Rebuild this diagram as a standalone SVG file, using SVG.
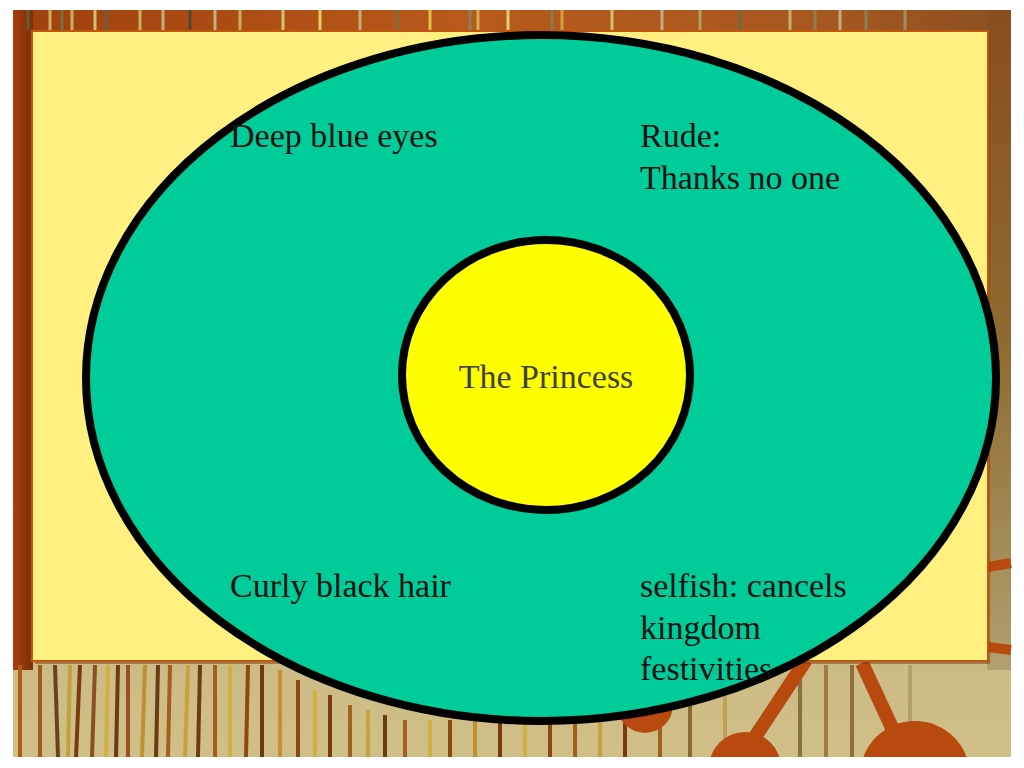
<svg xmlns="http://www.w3.org/2000/svg" width="1024" height="768" viewBox="0 0 1024 768">
<defs>
<linearGradient id="topbg" x1="0" y1="0" x2="1" y2="0">
<stop offset="0" stop-color="#a0400c"/>
<stop offset="0.45" stop-color="#b85a1c"/>
<stop offset="0.8" stop-color="#a85820"/>
<stop offset="1" stop-color="#8a5020"/>
</linearGradient>
<linearGradient id="leftbg" x1="0" y1="0" x2="1" y2="0">
<stop offset="0" stop-color="#a8400c"/>
<stop offset="1" stop-color="#7a3008"/>
</linearGradient>
<linearGradient id="rightbg" x1="0" y1="0" x2="0" y2="1">
<stop offset="0" stop-color="#8a4e1e"/>
<stop offset="0.5" stop-color="#8e6a30"/>
<stop offset="1" stop-color="#b0a070"/>
</linearGradient>
<linearGradient id="botbg" x1="0" y1="0" x2="0" y2="1">
<stop offset="0" stop-color="#b09868"/>
<stop offset="1" stop-color="#d0c088"/>
</linearGradient>
<style>
.lbl{font-family:"Liberation Serif","Times New Roman",serif;font-size:34px;fill:#111111}
.ctr{font-family:"Liberation Serif","Times New Roman",serif;font-size:34px;fill:#404030;text-anchor:middle}
.ts{stroke-width:3}
.bs{stroke-width:4}
</style>
</defs>
<rect x="0" y="0" width="1024" height="768" fill="#ffffff"/>
<g id="background">
<rect x="13" y="10" width="998" height="748" fill="url(#botbg)"/>
<rect x="13" y="10" width="998" height="30" fill="url(#topbg)"/>
<rect x="13" y="10" width="20" height="660" fill="url(#leftbg)"/>
<rect x="987" y="10" width="24" height="660" fill="url(#rightbg)"/>
<g class="ts" stroke="#c8b060">
<line x1="28" y1="10" x2="28" y2="30" stroke="#6a5a30"/>
<line x1="50" y1="10" x2="50" y2="30"/>
<line x1="62" y1="10" x2="62" y2="30" stroke="#7a7040"/>
<line x1="72" y1="10" x2="72" y2="30"/>
<line x1="95" y1="10" x2="95" y2="30" stroke="#d0c070"/>
<line x1="106" y1="10" x2="106" y2="30" stroke="#6a6040"/>
<line x1="140" y1="10" x2="140" y2="30"/>
<line x1="163" y1="10" x2="163" y2="30" stroke="#c0b080"/>
<line x1="190" y1="10" x2="190" y2="30" stroke="#504830"/>
<line x1="215" y1="10" x2="215" y2="30" stroke="#c8b080"/>
<line x1="240" y1="10" x2="240" y2="30"/>
<line x1="283" y1="10" x2="283" y2="30" stroke="#d8c070"/>
<line x1="320" y1="10" x2="320" y2="30" stroke="#e0d060"/>
<line x1="360" y1="10" x2="360" y2="30" stroke="#c0b070"/>
<line x1="397" y1="10" x2="397" y2="30" stroke="#7a7040"/>
<line x1="430" y1="10" x2="430" y2="30" stroke="#e0c040"/>
<line x1="470" y1="10" x2="470" y2="30" stroke="#8a8060"/>
<line x1="478" y1="10" x2="478" y2="30" stroke="#d0b050"/>
<line x1="508" y1="10" x2="508" y2="30" stroke="#e0d070"/>
<line x1="552" y1="10" x2="552" y2="30" stroke="#8a7a50"/>
<line x1="562" y1="10" x2="562" y2="30" stroke="#d0a040"/>
<line x1="612" y1="10" x2="612" y2="30" stroke="#d0c070"/>
<line x1="662" y1="10" x2="662" y2="30" stroke="#c0b080"/>
<line x1="700" y1="10" x2="700" y2="30" stroke="#b0a060"/>
<line x1="740" y1="10" x2="740" y2="30" stroke="#706840"/>
<line x1="790" y1="10" x2="790" y2="30" stroke="#c8b070"/>
<line x1="815" y1="10" x2="815" y2="30" stroke="#908050"/>
<line x1="840" y1="10" x2="840" y2="30" stroke="#c0b080"/>
<line x1="866" y1="10" x2="866" y2="30" stroke="#8a8050"/>
<line x1="905" y1="10" x2="905" y2="30" stroke="#a09060"/>
</g>
<g class="bs">
<line x1="20" y1="665" x2="20" y2="757" stroke="#b05a18"/>
<line x1="40" y1="665" x2="40" y2="757" stroke="#a05a20"/>
<line x1="55" y1="665" x2="58" y2="757" stroke="#6a4020"/>
<line x1="70" y1="665" x2="68" y2="757" stroke="#c0a040"/>
<line x1="80" y1="665" x2="76" y2="757" stroke="#7a3a10"/>
<line x1="95" y1="665" x2="92" y2="757" stroke="#8a5020"/>
<line x1="108" y1="665" x2="106" y2="757" stroke="#d0b040"/>
<line x1="118" y1="665" x2="116" y2="757" stroke="#6a3a10"/>
<line x1="128" y1="665" x2="128" y2="757" stroke="#9a5020"/>
<line x1="145" y1="665" x2="142" y2="757" stroke="#c09030"/>
<line x1="158" y1="665" x2="156" y2="757" stroke="#6a3a10"/>
<line x1="170" y1="665" x2="168" y2="757" stroke="#a06020"/>
<line x1="188" y1="665" x2="185" y2="757" stroke="#c8a040"/>
<line x1="200" y1="665" x2="198" y2="757" stroke="#703a10"/>
<line x1="215" y1="665" x2="215" y2="757" stroke="#a06020"/>
<line x1="230" y1="665" x2="230" y2="757" stroke="#d0b040"/>
<line x1="248" y1="665" x2="246" y2="757" stroke="#8a4a10"/>
<line x1="262" y1="665" x2="262" y2="757" stroke="#6a3a10"/>
<line x1="280" y1="670" x2="280" y2="757" stroke="#c89030"/>
<line x1="298" y1="680" x2="298" y2="757" stroke="#8a4a10"/>
<line x1="315" y1="690" x2="315" y2="757" stroke="#d0b040"/>
<line x1="330" y1="695" x2="330" y2="757" stroke="#7a3a10"/>
<line x1="350" y1="705" x2="350" y2="757" stroke="#a06020"/>
<line x1="368" y1="710" x2="368" y2="757" stroke="#c8a040"/>
<line x1="385" y1="715" x2="385" y2="757" stroke="#6a3a10"/>
<line x1="405" y1="720" x2="405" y2="757" stroke="#a06020"/>
<line x1="430" y1="720" x2="430" y2="757" stroke="#d0b040"/>
<line x1="450" y1="720" x2="450" y2="757" stroke="#8a4a10"/>
<line x1="475" y1="720" x2="475" y2="757" stroke="#c09030"/>
<line x1="500" y1="720" x2="500" y2="757" stroke="#7a3a10"/>
<line x1="525" y1="720" x2="525" y2="757" stroke="#d0b040"/>
<line x1="550" y1="720" x2="550" y2="757" stroke="#8a4a10"/>
<line x1="575" y1="720" x2="575" y2="757" stroke="#a06020"/>
<line x1="600" y1="720" x2="600" y2="757" stroke="#c8a040"/>
<line x1="625" y1="720" x2="625" y2="757" stroke="#7a3a10"/>
<line x1="660" y1="715" x2="660" y2="757" stroke="#a06020"/>
<line x1="690" y1="700" x2="690" y2="757" stroke="#8a6a30"/>
<line x1="725" y1="690" x2="725" y2="757" stroke="#c0a050"/>
<line x1="800" y1="665" x2="800" y2="757" stroke="#8a7040"/>
<line x1="826" y1="665" x2="826" y2="757" stroke="#a07a40"/>
<line x1="852" y1="665" x2="852" y2="757" stroke="#907040"/>
<line x1="910" y1="665" x2="910" y2="757" stroke="#b0a070"/>
</g>
<g fill="#b84a10">
<circle cx="645" cy="705" r="28"/>
<circle cx="745" cy="768" r="36"/>
<circle cx="915" cy="776" r="55"/>
</g>
<g stroke="#b84a10" stroke-width="14" fill="none">
<line x1="753" y1="740" x2="806" y2="660"/>
<line x1="893" y1="730" x2="862" y2="663"/>
<line x1="988" y1="567" x2="1011" y2="563" stroke-width="10"/>
<line x1="988" y1="647" x2="1011" y2="650" stroke-width="10"/>
<line x1="660" y1="700" x2="690" y2="680" stroke-width="10"/>
</g>
<rect x="13" y="757" width="998" height="11" fill="#ffffff"/>
</g>
<g id="panel">
<rect x="35" y="34" width="955" height="630" fill="#7a3a10" opacity="0.5"/>
<rect x="32" y="31" width="956" height="630" fill="#fff080" stroke="#c0560f" stroke-width="2"/>
</g>
<g id="connectors"></g>
<g id="outer">
<ellipse cx="541" cy="378" rx="455" ry="343" fill="#00cc99" stroke="#000000" stroke-width="8"/>
</g>
<g id="inner">
<ellipse cx="546" cy="375" rx="144" ry="135" fill="#ffff00" stroke="#000000" stroke-width="8"/>
<text class="ctr" x="546" y="388">The Princess</text>
</g>
<g id="labels">
<text class="lbl" x="230" y="147">Deep blue eyes</text>
<text class="lbl" x="640" y="147">Rude:</text>
<text class="lbl" x="640" y="189">Thanks no one</text>
<text class="lbl" x="230" y="597">Curly black hair</text>
<text class="lbl" x="640" y="597">selfish: cancels</text>
<text class="lbl" x="640" y="639">kingdom</text>
<text class="lbl" x="640" y="680">festivities</text>
</g>
</svg>
